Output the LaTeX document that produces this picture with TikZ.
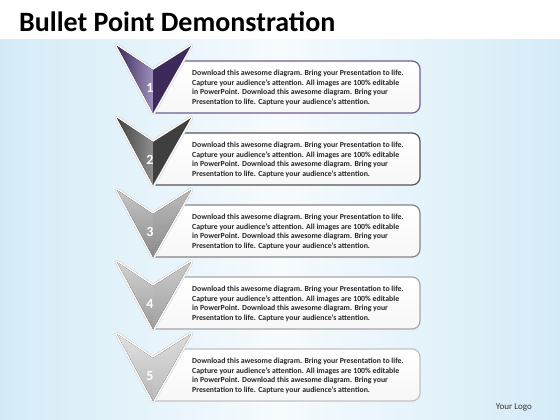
\documentclass[tikz,border=0pt]{standalone}
\usepackage{fontspec}
\setmainfont{Carlito}
\definecolor{skyedge}{HTML}{D4EBF7}
\definecolor{skymid}{HTML}{F6FBFE}
\definecolor{purpleout}{HTML}{3E2D5E}
\definecolor{purplein}{HTML}{9E90BC}
\definecolor{purpleright}{HTML}{3B2A5A}
\definecolor{purplerim}{HTML}{6E5E96}
\definecolor{darkout}{HTML}{444444}
\definecolor{darkin}{HTML}{8E8E8E}
\definecolor{darkright}{HTML}{3F3F3F}
\definecolor{darkrim}{HTML}{555555}
\definecolor{midout}{HTML}{8A8A8A}
\definecolor{midin}{HTML}{C6C6C6}
\definecolor{midright}{HTML}{8C8C8C}
\definecolor{midrim}{HTML}{858585}
\definecolor{lightout}{HTML}{9C9C9C}
\definecolor{lightin}{HTML}{D2D2D2}
\definecolor{lightright}{HTML}{A2A2A2}
\definecolor{lightrim}{HTML}{A6A6A6}
\definecolor{paleout}{HTML}{B6B6B6}
\definecolor{palein}{HTML}{E2E2E2}
\definecolor{paleright}{HTML}{BDBDBD}
\definecolor{palerim}{HTML}{C2C2C2}
\newcommand{\blurb}{Download this awesome diagram. Bring your Presentation to life.\\
Capture your audience’s attention. All images are 100\% editable\\
in PowerPoint. Download this awesome diagram. Bring your\\
Presentation to life. Capture your audience’s attention.}
\tikzset{
  infobox/.style={line width=1.2pt, top color=white, bottom color=gray!6},
  blurbtext/.style={anchor=west, align=left, inner sep=0pt, text=black!85,
    font=\fontsize{7.8}{9.7}\selectfont\bfseries},
  chevshadow/.style={draw=gray!30, line width=4.5pt, line join=round},
  chevrim/.style={draw=white, line width=3pt, line join=round},
  numlabel/.style={text=white, font=\fontsize{14}{14}\selectfont\bfseries, inner sep=0pt}
}
\begin{document}
\begin{tikzpicture}[x=1pt,y=-1pt]
  \useasboundingbox (0,0) rectangle (560,420);
  % background
  \fill[white] (0,0) rectangle (560,40);
  \fill[left color=skyedge, right color=skyedge, middle color=skymid] (0,40) rectangle (560,420);
  \node[anchor=west, inner sep=0pt, font=\fontsize{28}{28}\selectfont\bfseries] (title) at (19,22) {Bullet Point Demonstration};
  \node[anchor=east, inner sep=0pt, text=black!80, font=\fontsize{9}{9}\selectfont] (logo) at (532,407) {Your Logo};

  % item 1
  \draw[infobox, draw=purplerim] (182,61) [rounded corners=8pt] -- (420,61) -- (420,113) [sharp corners] -- (153,113) -- cycle;
  \node[blurbtext] (text1) at (192,88) {\blurb};
  \draw[chevshadow] (117,46) -- (153,70) -- (191,46) -- (153,113) -- cycle;
  \draw[chevrim] (117,46) -- (153,70) -- (191,46) -- (153,113) -- cycle;
  \fill[left color=purpleout, right color=purplein] (117,46) -- (153,70) -- (153,113) -- cycle;
  \fill[purpleright] (153,70) -- (191,46) -- (153,113) -- cycle;
  \node[numlabel] (num1) at (150,88) {1};

  % item 2
  \begin{scope}[shift={(0,72)}]
  \draw[infobox, draw=darkrim] (182,61) [rounded corners=8pt] -- (420,61) -- (420,113) [sharp corners] -- (153,113) -- cycle;
  \node[blurbtext] (text2) at (192,88) {\blurb};
  \draw[chevshadow] (117,46) -- (153,70) -- (191,46) -- (153,113) -- cycle;
  \draw[chevrim] (117,46) -- (153,70) -- (191,46) -- (153,113) -- cycle;
  \fill[left color=darkout, right color=darkin] (117,46) -- (153,70) -- (153,113) -- cycle;
  \fill[darkright] (153,70) -- (191,46) -- (153,113) -- cycle;
  \node[numlabel] (num2) at (150,88) {2};
  \end{scope}

  % item 3
  \begin{scope}[shift={(0,144)}]
  \draw[infobox, draw=midrim] (182,61) [rounded corners=8pt] -- (420,61) -- (420,113) [sharp corners] -- (153,113) -- cycle;
  \node[blurbtext] (text3) at (192,88) {\blurb};
  \draw[chevshadow] (117,46) -- (153,70) -- (191,46) -- (153,113) -- cycle;
  \draw[chevrim] (117,46) -- (153,70) -- (191,46) -- (153,113) -- cycle;
  \fill[top color=midin, bottom color=midout] (117,46) -- (153,70) -- (153,113) -- cycle;
  \fill[top color=midin!80!midright, bottom color=midright] (153,70) -- (191,46) -- (153,113) -- cycle;
  \node[numlabel] (num3) at (150,88) {3};
  \end{scope}

  % item 4
  \begin{scope}[shift={(0,216)}]
  \draw[infobox, draw=lightrim] (182,61) [rounded corners=8pt] -- (420,61) -- (420,113) [sharp corners] -- (153,113) -- cycle;
  \node[blurbtext] (text4) at (192,88) {\blurb};
  \draw[chevshadow] (117,46) -- (153,70) -- (191,46) -- (153,113) -- cycle;
  \draw[chevrim] (117,46) -- (153,70) -- (191,46) -- (153,113) -- cycle;
  \fill[top color=lightin, bottom color=lightout] (117,46) -- (153,70) -- (153,113) -- cycle;
  \fill[top color=lightin!80!lightright, bottom color=lightright] (153,70) -- (191,46) -- (153,113) -- cycle;
  \node[numlabel] (num4) at (150,88) {4};
  \end{scope}

  % item 5
  \begin{scope}[shift={(0,288)}]
  \draw[infobox, draw=palerim] (182,61) [rounded corners=8pt] -- (420,61) -- (420,113) [sharp corners] -- (153,113) -- cycle;
  \node[blurbtext] (text5) at (192,88) {\blurb};
  \draw[chevshadow] (117,46) -- (153,70) -- (191,46) -- (153,113) -- cycle;
  \draw[chevrim] (117,46) -- (153,70) -- (191,46) -- (153,113) -- cycle;
  \fill[top color=palein, bottom color=paleout] (117,46) -- (153,70) -- (153,113) -- cycle;
  \fill[top color=palein!80!paleright, bottom color=paleright] (153,70) -- (191,46) -- (153,113) -- cycle;
  \node[numlabel] (num5) at (150,88) {5};
  \end{scope}
\end{tikzpicture}
\end{document}
